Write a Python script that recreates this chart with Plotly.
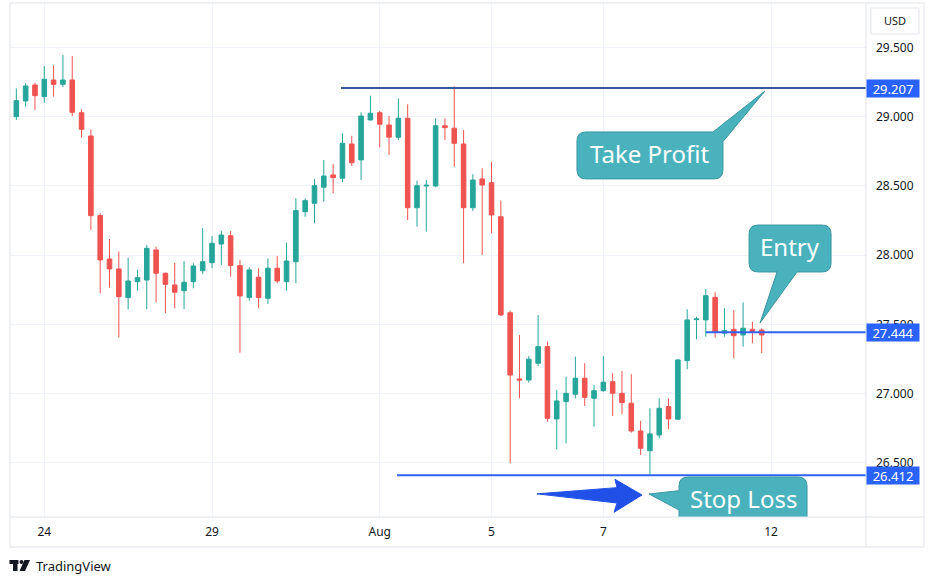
import plotly.graph_objects as go

# ---- candle data (4h candles) ----
opens = [29.000, 29.114, 29.229, 29.145, 29.265, 29.234, 29.265, 29.029, 28.861, 28.286,
         27.973, 27.901, 27.694, 27.809, 27.821, 28.038, 27.870, 27.785, 27.744, 27.809,
         27.888, 27.946, 28.081, 28.141, 27.925, 27.694, 27.841, 27.689, 27.906, 27.809,
         27.953, 28.314, 28.375, 28.491, 28.580, 28.556, 28.803, 28.688, 28.977, 29.029,
         28.940, 28.852, 28.989, 28.343, 28.500, 28.500, 28.935, 28.917, 28.803, 28.343,
         28.551, 28.524, 28.278, 27.585, 27.107, 27.099, 27.220, 27.340, 26.818, 26.943,
         26.996, 27.112, 26.967, 27.022, 27.087, 27.003, 26.931, 26.731, 26.589, 26.702,
         26.907, 26.816, 27.239, 27.535, 27.533, 27.696, 27.437, 27.465, 27.424, 27.465,
         27.460]
highs = [29.205, 29.242, 29.246, 29.366, 29.371, 29.446, 29.439, 29.054, 28.909, 28.303,
         28.117, 28.026, 27.982, 27.894, 28.074, 28.062, 27.874, 27.946, 27.958, 27.942,
         28.195, 28.139, 28.175, 28.175, 27.966, 27.913, 27.906, 27.978, 27.995, 28.091,
         28.411, 28.411, 28.551, 28.688, 28.659, 28.881, 28.863, 29.032, 29.152, 29.042,
         29.005, 29.133, 29.090, 28.538, 28.543, 28.989, 28.989, 29.220, 28.904, 28.585,
         28.628, 28.675, 28.394, 27.600, 27.424, 27.273, 27.569, 27.376, 27.027, 27.123,
         27.268, 27.220, 27.063, 27.273, 27.148, 27.164, 27.141, 26.805, 26.895, 26.967,
         26.967, 27.250, 27.610, 27.556, 27.756, 27.733, 27.617, 27.605, 27.660, 27.520,
         27.472]
lows = [28.977, 29.073, 29.049, 29.101, 29.145, 29.213, 29.005, 28.849, 28.182, 27.725,
        27.766, 27.405, 27.610, 27.744, 27.610, 27.658, 27.581, 27.617, 27.610, 27.761,
        27.863, 27.906, 27.930, 27.845, 27.296, 27.672, 27.617, 27.648, 27.798, 27.744,
        27.798, 28.278, 28.231, 28.387, 28.447, 28.527, 28.644, 28.543, 28.971, 28.777,
        28.724, 28.832, 28.254, 28.206, 28.170, 28.491, 28.832, 28.639, 27.942, 28.320,
        28.002, 28.158, 27.561, 26.498, 26.967, 27.080, 27.200, 26.798, 26.599, 26.642,
        26.967, 26.912, 26.762, 27.015, 26.839, 26.852, 26.719, 26.558, 26.415, 26.678,
        26.744, 26.810, 27.177, 27.393, 27.412, 27.405, 27.412, 27.256, 27.340, 27.364,
        27.292]
closes = [29.116, 29.222, 29.152, 29.270, 29.234, 29.265, 29.032, 28.909, 28.286, 27.966,
          27.901, 27.701, 27.814, 27.838, 28.050, 27.870, 27.790, 27.733, 27.805, 27.922,
          27.953, 28.086, 28.146, 27.925, 27.706, 27.894, 27.694, 27.906, 27.814, 27.958,
          28.322, 28.394, 28.502, 28.572, 28.560, 28.808, 28.668, 29.005, 29.025, 28.946,
          28.852, 28.989, 28.343, 28.502, 28.505, 28.935, 28.921, 28.808, 28.343, 28.543,
          28.507, 28.291, 27.569, 27.135, 27.099, 27.249, 27.340, 26.823, 26.948, 27.003,
          27.112, 26.974, 27.022, 27.083, 27.003, 26.936, 26.731, 26.606, 26.710, 26.895,
          26.818, 27.244, 27.533, 27.540, 27.708, 27.444, 27.456, 27.419, 27.473, 27.444,
          27.424]
candle_index = list(range(len(opens)))

# ---- time axis labels (candle index where each day label sits) ----
day_tick_index = [3, 21, 39, 51, 63, 81]
day_tick_labels = ["24", "29", "Aug", "5", "7", "12"]

# ---- price axis ----
price_ticks = [26.5, 27.0, 27.5, 28.0, 28.5, 29.0, 29.5]

# ---- trade levels ----
level_names = ["Take Profit", "Entry", "Stop Loss"]
level_prices = [29.207, 27.444, 26.412]
level_start_index = [34.85, 74.0, 40.85]
level_colors = ["#37589a", "#2f63f0", "#2f63f0"]

X_RANGE = [-0.68, 91.19]
Y_RANGE = [26.110, 29.821]

UP = "#26a69a"
DOWN = "#ef5350"
TEXT = "#131722"
FRAME = "#e0e3eb"
GRID = "#f0f3fa"
CALLOUT_FILL = "#4ab2bd"
CALLOUT_LINE = "#3b97a2"
FONT = "Noto Sans"

fig = go.Figure()
fig.add_trace(go.Candlestick(
    x=candle_index, open=opens, high=highs, low=lows, close=closes,
    increasing=dict(line=dict(color=UP, width=1), fillcolor=UP),
    decreasing=dict(line=dict(color=DOWN, width=1), fillcolor=DOWN),
    whiskerwidth=0, showlegend=False, hoverinfo="skip",
))

shapes = []
# level lines
for p, x0, c in zip(level_prices, level_start_index, level_colors):
    shapes.append(dict(type="line", xref="x", yref="y", x0=x0, x1=X_RANGE[1] + 5,
                       y0=p, y1=p, line=dict(color=c, width=2), layer="above"))

rx, ry = 0.97, 0.065

# Take Profit callout (pointer over top-right corner)
L, R, T, B = 60.17, 75.84, 28.890, 28.551
tp_path = (f"M {L+rx},{T} L 74.77,{T} L 80.35,29.186 L {R},28.820 L {R},{B+ry} "
           f"Q {R},{B} {R-rx},{B} L {L+rx},{B} Q {L},{B} {L},{B+ry} L {L},{T-ry} "
           f"Q {L},{T} {L+rx},{T} Z")
# Entry callout (pointer on bottom edge)
L, R, T, B = 78.64, 87.44, 28.218, 27.879
en_path = (f"M {L+rx},{T} L {R-rx},{T} Q {R},{T} {R},{T-ry} L {R},{B+ry} "
           f"Q {R},{B} {R-rx},{B} L 83.79,{B} L 79.82,27.511 L 81.64,{B} L {L+rx},{B} "
           f"Q {L},{B} {L},{B+ry} L {L},{T-ry} Q {L},{T} {L+rx},{T} Z")
# Stop Loss callout (pointer on left edge, bottom cut by axis)
L, R, T, B = 71.12, 84.86, 26.399, 25.90
sl_path = (f"M {L+rx},{T} L {R-rx},{T} Q {R},{T} {R},{T-ry} L {R},{B} L {L},{B} "
           f"L {L},26.161 L 67.90,26.276 L {L},26.300 L {L},{T-ry} Q {L},{T} {L+rx},{T} Z")
for pth in (tp_path, en_path, sl_path):
    shapes.append(dict(type="path", xref="x", yref="y", path=pth,
                       fillcolor=CALLOUT_FILL, line=dict(color=CALLOUT_LINE, width=1),
                       layer="above"))

# blue arrow pointing at stop loss
arrow_path = ("M 55.88,26.277 L 64.47,26.322 L 64.25,26.382 L 67.15,26.269 "
              "L 64.15,26.144 L 64.47,26.211 Z")
shapes.append(dict(type="path", xref="x", yref="y", path=arrow_path,
                   fillcolor="#2050e8", line=dict(color="#2050e8", width=1), layer="above"))

# frame lines (paper coords)
XR = 1.0678
YB = -0.0584
for (x0, y0, x1, y1) in [(0, 1, XR, 1), (0, 0, XR, 0), (0, YB, XR, YB),
                         (0, YB, 0, 1), (1, YB, 1, 1), (XR, YB, XR, 1)]:
    shapes.append(dict(type="line", xref="paper", yref="paper", x0=x0, y0=y0, x1=x1, y1=y1,
                       line=dict(color=FRAME, width=1), layer="above"))

# USD box
shapes.append(dict(type="rect", xref="paper", yref="paper", x0=1.0058, x1=1.0619,
                   y0=0.9397, y1=0.9903, line=dict(color=FRAME, width=1),
                   fillcolor="white", layer="above"))

# TradingView logo
shapes += [
    dict(type="rect", xref="paper", yref="paper", x0=-0.0006, x1=0.0099, y0=-0.0914, y1=-0.0837,
         fillcolor=TEXT, line=dict(width=0)),
    dict(type="rect", xref="paper", yref="paper", x0=0.0035, x1=0.0088, y0=-0.1051, y1=-0.0837,
         fillcolor=TEXT, line=dict(width=0)),
    dict(type="circle", xref="paper", yref="paper", x0=0.0111, x1=0.0158, y0=-0.0914, y1=-0.0837,
         fillcolor=TEXT, line=dict(width=0)),
    dict(type="path", xref="paper", yref="paper",
         path="M 0.0169,-0.0837 L 0.0234,-0.0837 L 0.0175,-0.1051 L 0.0111,-0.1051 Z",
         fillcolor=TEXT, line=dict(width=0)),
]

annotations = []
# callout texts
for txt, x, y in [("Take Profit", 68.0, 28.737), ("Entry", 83.04, 28.064), ("Stop Loss", 78.0, 26.247)]:
    annotations.append(dict(text=txt, x=x, y=y, xref="x", yref="y", showarrow=False,
                            font=dict(family=FONT, size=24, color="white"),
                            xanchor="center", yanchor="middle"))
# price labels on the axis
for p in level_prices:
    annotations.append(dict(text=f"{p:.3f}", x=1.0315, y=p, xref="paper", yref="y",
                            showarrow=False, bgcolor="#2962ff", width=52, height=17,
                            borderpad=0, font=dict(family=FONT, size=13, color="white"),
                            xanchor="center", yanchor="middle"))
annotations.append(dict(text="USD", x=1.0339, y=0.965, xref="paper", yref="paper",
                        showarrow=False, font=dict(family=FONT, size=11, color=TEXT),
                        xanchor="center", yanchor="middle"))
annotations.append(dict(text="TradingView", x=0.0280, y=-0.0953, xref="paper", yref="paper",
                        showarrow=False, font=dict(family=FONT, size=13, color=TEXT),
                        xanchor="left", yanchor="middle"))

fig.update_layout(
    width=928, height=582,
    margin=dict(l=10, r=62, t=3, b=65),
    paper_bgcolor="white", plot_bgcolor="white",
    shapes=shapes, annotations=annotations,
    showlegend=False,
    xaxis=dict(range=X_RANGE, tickmode="array", tickvals=day_tick_index,
               ticktext=day_tick_labels, showgrid=True, gridcolor=GRID, gridwidth=1,
               zeroline=False, showline=False, ticks="", ticklabelstandoff=6,
               rangeslider=dict(visible=False),
               tickfont=dict(family=FONT, size=12, color=TEXT), fixedrange=True),
    yaxis=dict(range=Y_RANGE, side="right", tickmode="array", tickvals=price_ticks,
               tickformat=".3f", showgrid=True, gridcolor=GRID, gridwidth=1,
               zeroline=False, showline=False, ticks="", ticklabelstandoff=9,
               tickfont=dict(family=FONT, size=12, color=TEXT), fixedrange=True),
)

fig.write_html("out.html", config={"displayModeBar": False},
               post_script="document.body.style.margin='0';document.body.style.overflow='hidden';")
